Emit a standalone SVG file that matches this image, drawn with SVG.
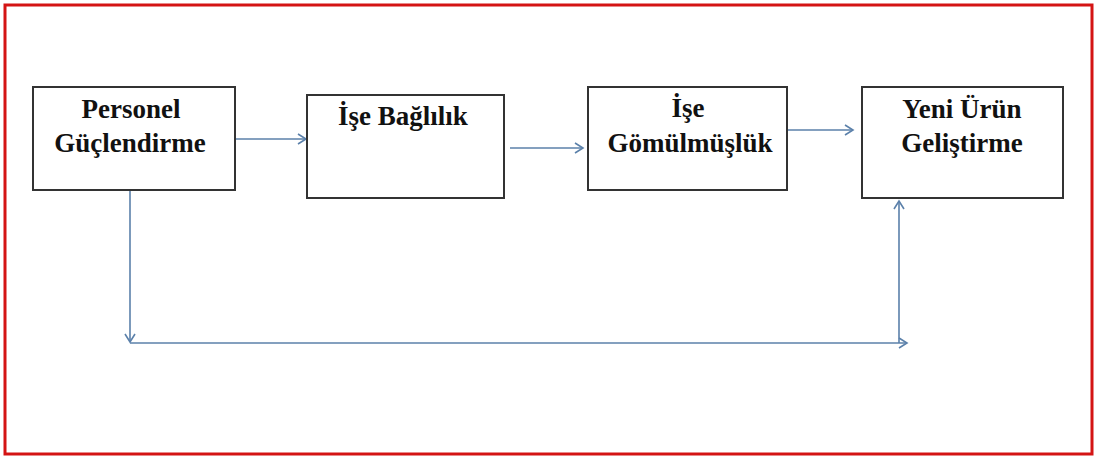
<svg xmlns="http://www.w3.org/2000/svg" width="1096" height="457" viewBox="0 0 1096 457">
  <style>
    .box { fill: #ffffff; stroke: #333333; stroke-width: 2; }
    .lbl { font-family: "Liberation Serif", "Times New Roman", serif; font-weight: bold; font-size: 27px; fill: #111111; text-anchor: middle; }
    .con { fill: none; stroke: #5b80aa; stroke-width: 1.6; }
  </style>
  <defs>
    <marker id="arr" markerWidth="12" markerHeight="12" refX="10" refY="6" orient="auto" markerUnits="userSpaceOnUse">
      <path d="M2,1 L10,6 L2,11" fill="none" stroke="#5b80aa" stroke-width="1.6"/>
    </marker>
  </defs>
  <rect x="0" y="0" width="1096" height="457" fill="#ffffff"/>
  <rect x="5" y="5" width="1087" height="449" fill="none" stroke="#d41414" stroke-width="3"/>

  <g id="connectors">
    <line class="con" x1="236" y1="139" x2="306" y2="139" marker-end="url(#arr)"/>
    <line class="con" x1="510" y1="148" x2="583" y2="148" marker-end="url(#arr)"/>
    <line class="con" x1="788" y1="130" x2="853" y2="130" marker-end="url(#arr)"/>
    <line class="con" x1="130" y1="191" x2="130" y2="342" marker-end="url(#arr)"/>
    <line class="con" x1="130" y1="343" x2="907" y2="343" marker-end="url(#arr)"/>
    <line class="con" x1="899" y1="343" x2="899" y2="201" marker-end="url(#arr)"/>
  </g>

  <g id="node-personel">
    <rect class="box" x="33" y="87" width="202" height="103"/>
    <text class="lbl" x="131" y="118">Personel</text>
    <text class="lbl" x="130" y="152">Güçlendirme</text>
  </g>
  <g id="node-ise-baglilik">
    <rect class="box" x="307" y="95" width="197" height="103"/>
    <text class="lbl" x="403" y="125">İşe Bağlılık</text>
  </g>
  <g id="node-ise-gomulmusluk">
    <rect class="box" x="588" y="87" width="199" height="103"/>
    <text class="lbl" x="688" y="117">İşe</text>
    <text class="lbl" x="690" y="152">Gömülmüşlük</text>
  </g>
  <g id="node-yeni-urun">
    <rect class="box" x="862" y="87" width="201" height="111"/>
    <text class="lbl" x="962" y="118">Yeni Ürün</text>
    <text class="lbl" x="962" y="152">Geliştirme</text>
  </g>
</svg>
